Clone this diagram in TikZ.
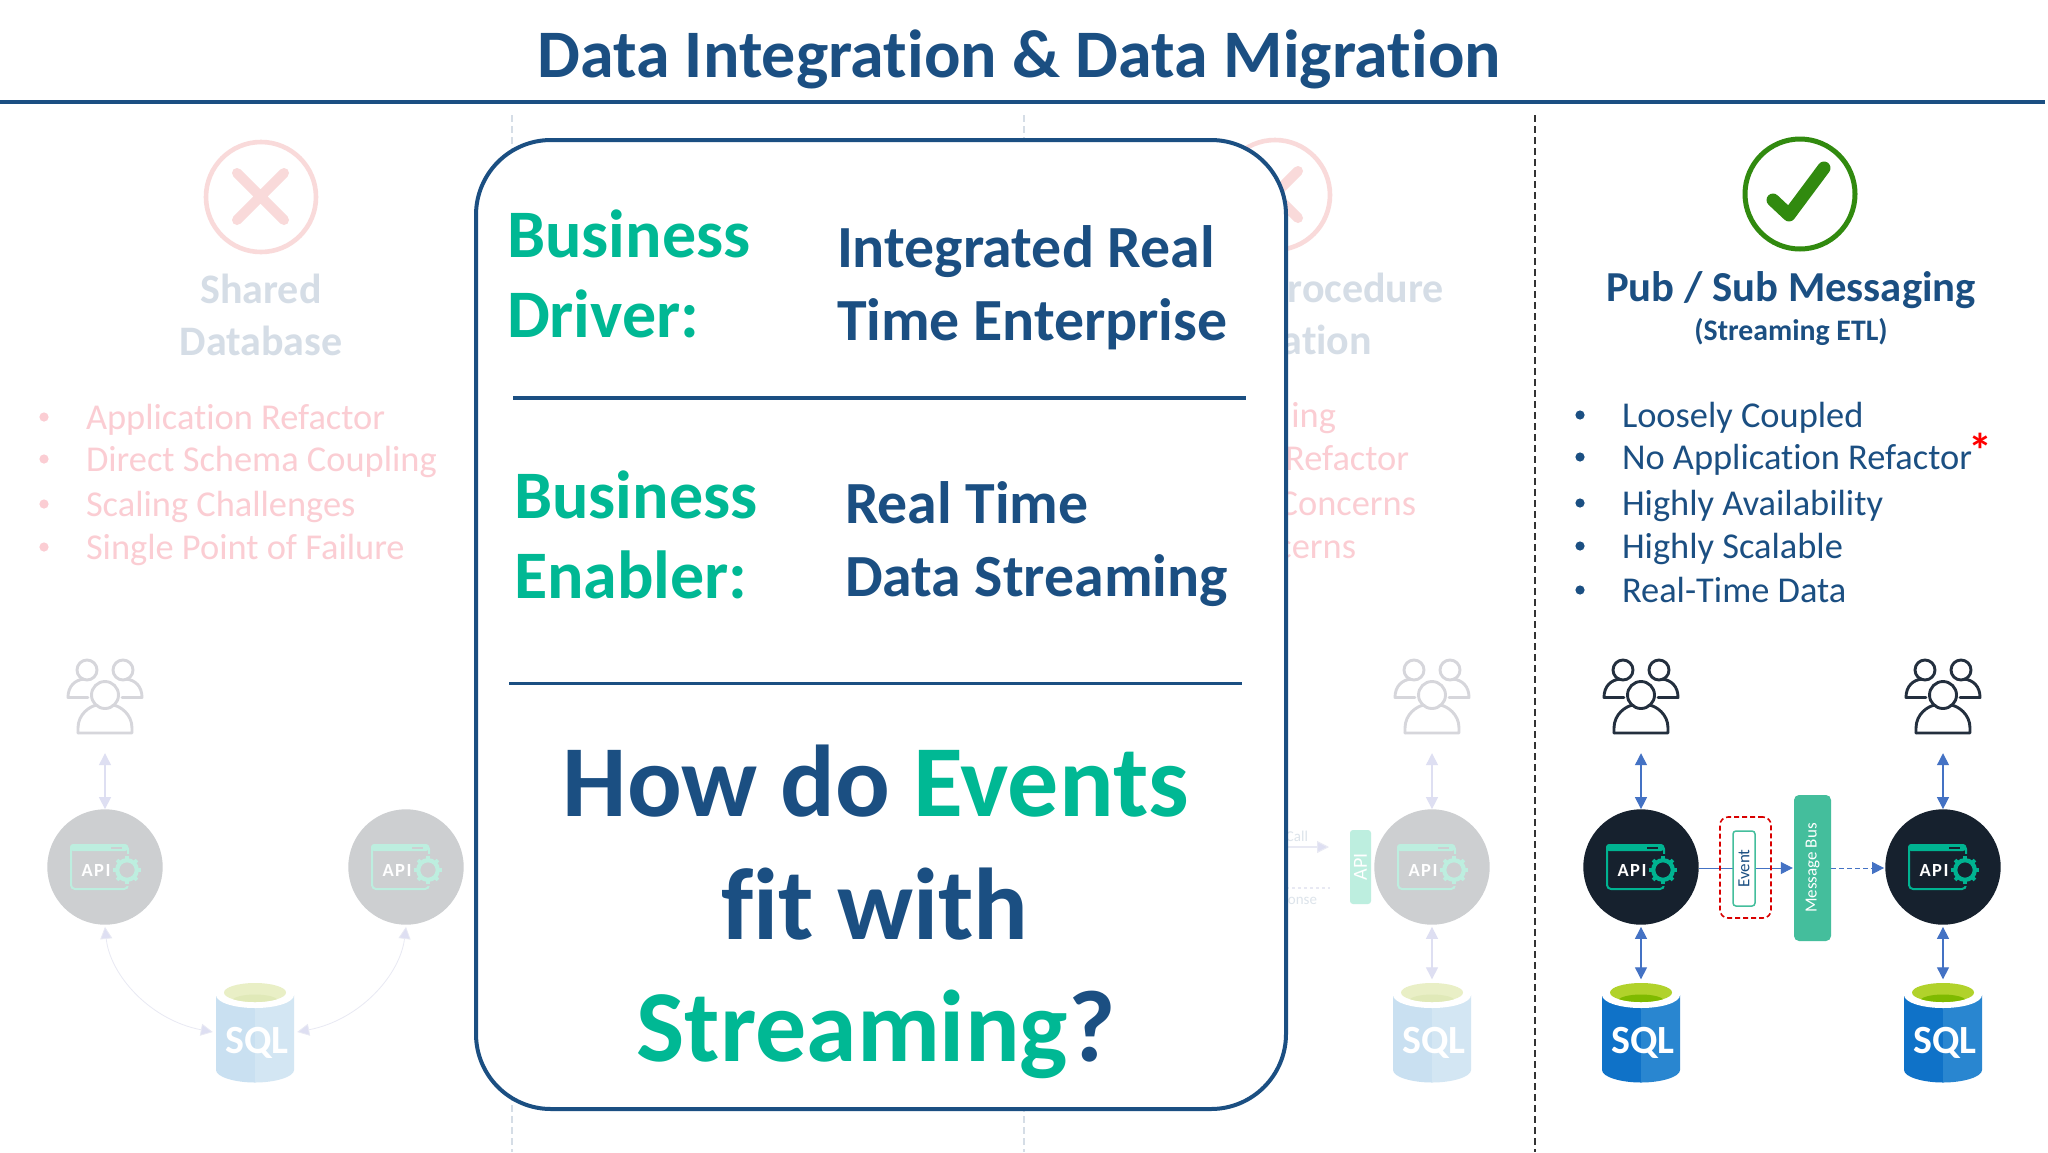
\documentclass[tikz,border=0pt]{standalone}
\usepackage{fontspec}
\setmainfont{Carlito}[Ligatures=NoCommon]
\newfontfamily\apifont{Carlito}[LetterSpace=8,Ligatures=NoCommon]
\usetikzlibrary{arrows.meta,calc}
\definecolor{navy}{HTML}{1B4F82}
\definecolor{teal}{HTML}{00B894}
\definecolor{tealb}{HTML}{00B391}
\definecolor{busg}{HTML}{44BE9C}
\definecolor{arrowb}{HTML}{4472C4}
\definecolor{farrow}{HTML}{DEDFF2}
\definecolor{fline}{HTML}{E8E9F3}
\definecolor{ink}{HTML}{232F3E}
\definecolor{apibg}{HTML}{16212E}
\definecolor{fapibg}{HTML}{CDCFD1}
\definecolor{fteal}{HTML}{BDEEDF}
\definecolor{fusers}{HTML}{D6D6DB}
\definecolor{pinkt}{HTML}{FBCDD3}
\definecolor{grayt}{HTML}{D5DDE6}
\definecolor{pinkx}{HTML}{F9DADA}
\definecolor{okgreen}{HTML}{318A0F}
\definecolor{sqlA}{HTML}{0F72C8}
\definecolor{sqlB}{HTML}{2986D0}
\definecolor{limeA}{HTML}{B1D22B}
\definecolor{limeB}{HTML}{7FBA00}
\definecolor{fsqlA}{HTML}{C9E0F1}
\definecolor{fsqlB}{HTML}{D3E6F3}
\definecolor{flimeA}{HTML}{E9EFC6}
\definecolor{flimeB}{HTML}{E0E9B8}
\newcommand\fpx[1]{\fontsize{#1}{#1}\selectfont}
\tikzset{
  x=1pt,y=-1pt,
  biarrow/.style={draw=arrowb,line width=1.3pt,{Triangle[length=12pt,width=12pt]}-{Triangle[length=12pt,width=12pt]}},
  onearrow/.style={draw=arrowb,line width=1pt,-{Triangle[length=12pt,width=12pt]}},
  fbiarrow/.style={draw=farrow,line width=1.3pt,{Triangle[length=12pt,width=12pt,fill=farrow]}-{Triangle[length=12pt,width=12pt,fill=farrow]}},
  fcurve/.style={draw=fline,line width=.8pt,{Triangle[length=12pt,width=12pt,fill=farrow]}-{Triangle[length=12pt,width=12pt,fill=farrow]}},
  txt/.style={inner sep=0pt,outer sep=0pt},
  listnavy/.style={txt,anchor=base west,text=navy,font=\fpx{36.4}},
  listpink/.style={txt,anchor=base west,text=pinkt,font=\fpx{36.4}},
  listpinkr/.style={txt,anchor=base east,text=pinkt,font=\fpx{36.4}},
  headfade/.style={txt,anchor=base,text=grayt,font=\fpx{42}\bfseries},
  headfader/.style={txt,anchor=base east,text=grayt,font=\fpx{42}\bfseries},
  cardgreen/.style={txt,anchor=base west,text=teal,font=\fpx{68}\bfseries},
  cardnavy/.style={txt,anchor=base west,text=navy,font=\fpx{59.8}\bfseries},
  cardbig/.style={txt,anchor=base,text=navy,font=\fpx{102}\bfseries},
  rulenavy/.style={draw=navy,line width=3.5pt},
}
% name, x, colour
\newcommand\usersicon[3]{%
  \begin{scope}[shift={(#2,0)},draw=#3,line width=2.9pt,line cap=round,line join=round]
    \draw (-18,670) circle[radius=10];
    \draw (18,670) circle[radius=10];
    \draw (-17,697.5) -- (-37,697.5) .. controls (-37,686) and (-30,680) .. (-21,679);
    \draw (17,697.5) -- (37,697.5) .. controls (37,686) and (30,680) .. (21,679);
    \draw (0,695) circle[radius=13.5];
    \draw (-27,733) -- (27,733) -- (27,728) .. controls (27,714) and (15,706) .. (8,705);
    \draw (-27,733) -- (-27,728) .. controls (-27,714) and (-15,706) .. (-8,705);
  \end{scope}
  \node[inner sep=0pt,minimum width=74pt,minimum height=95pt] (#1) at (#2,705.5) {};
}
% name, x, bg, teal
\newcommand\apiicon[4]{%
  \node[circle,fill=#3,inner sep=0pt,minimum size=115.4pt] (#1) at (#2,867) {};
  \begin{scope}[shift={(#2,867)}]
    \fill[#4,rounded corners=3pt] (-35,-23) rectangle (23,-16);
    \draw[#4,line width=2pt,rounded corners=4pt] (-34,-22) rectangle (23,22);
    \draw[#3,line width=1.6pt] (6,-19) -- (17,-19);
    \fill[#3] (22,3) circle[radius=16];
    \draw[#4,line width=4.2pt] (22,3) circle[radius=9.8];
    \foreach \a in {0,45,...,315}{\draw[#4,line width=3.8pt] ($(22,3)+(\a:9.5)$) -- ($(22,3)+(\a:14)$);}
  \end{scope}
  \node[txt,text=white,font=\apifont\fpx{18.5}\bfseries] (#1t) at ($(#2,867)+(-9,3)$) {API};
}
% name, x, A, B, limeA, limeB
\newcommand\sqlicon[6]{%
  \begin{scope}[shift={(#2,0)}]
    \fill[#3] (-39,995) -- (-39,1070) .. controls (-39,1077) and (-20,1082.5) .. (0,1082.5) -- (0,995) -- cycle;
    \fill[#4] (39,995) -- (39,1070) .. controls (39,1077) and (20,1082.5) .. (0,1082.5) -- (0,995) -- cycle;
    \fill[white] (0,995) ellipse[x radius=39,y radius=13];
    \fill[#5] (0,992.5) ellipse[x radius=31,y radius=9.5];
    \begin{scope}
      \clip (0,992.5) ellipse[x radius=31,y radius=9.5];
      \fill[#6] (0,1001) ellipse[x radius=23,y radius=6.5];
    \end{scope}
  \end{scope}
  \node[inner sep=0pt,minimum width=78pt,minimum height=101pt] (#1) at (#2,1032) {};
  \node[txt,anchor=base,text=white,font=\fpx{40}\bfseries] (#1t) at ($(#2,1053)+(2,0)$) {SQL};
}
\begin{document}
\begin{tikzpicture}
\useasboundingbox (0,0) rectangle (2048,1152);
\fill[white] (0,0) rectangle (2048,1152);

% title
\node[txt,anchor=base,text=navy,font=\fpx{68}\bfseries] (title) at (1019,77) {Data Integration \& Data Migration};
\coordinate (ruleL) at (0,102); \coordinate (ruleR) at (2045,102);
\draw[rulenavy] (ruleL) -- (ruleR);

% dividers
\coordinate (d1a) at (512,115); \coordinate (d1b) at (512,1152);
\coordinate (d2a) at (1024,115); \coordinate (d2b) at (1024,1152);
\coordinate (d3a) at (1535,115); \coordinate (d3b) at (1535,1152);
\draw[grayt,line width=1.4pt,dash pattern=on 7pt off 4pt] (d1a) -- (d1b);
\draw[grayt,line width=1.4pt,dash pattern=on 7pt off 4pt] (d2a) -- (d2b);
\draw[black!80,line width=1.4pt,dash pattern=on 7pt off 4pt] (d3a) -- (d3b);

% left faded column
\draw[pinkx,line width=4.6pt] (261,197) circle[radius=55];
\draw[pinkx,line width=10pt,line cap=round] (237,173) -- (284,220) (284,173) -- (237,220);
\node[headfade] (sh1) at (261,303) {Shared};
\node[headfade] (sh2) at (261,355) {Database};
\foreach \yy/\tt in {429/Application Refactor,471/Direct Schema Coupling,516/Scaling Challenges,559/Single Point of Failure}{
  \node[listpink] at (86,\yy) {\tt};
  \fill[pinkt] (44,\yy-12) circle[radius=4.6];
}
\usersicon{uL}{105}{fusers}
\apiicon{aL}{105}{fapibg}{fteal}
\apiicon{aM}{406}{fapibg}{fteal}
\sqlicon{sL}{255}{fsqlA}{fsqlB}{flimeA}{flimeB}
\draw[fbiarrow] (uL.south) -- (aL.north);
\draw[fcurve] ([yshift=-2pt]aL.south) .. controls (110,975) and (150,1020) .. ([xshift=-3pt]sL.west);
\draw[fcurve] ([yshift=-2pt]aM.south) .. controls (400,975) and (360,1020) .. ([xshift=3pt]sL.east);

% middle faded column
\draw[pinkx,line width=4.6pt] (1275,195) circle[radius=55];
\draw[pinkx,line width=10pt,line cap=round] (1251,171) -- (1298,218) (1298,171) -- (1251,218);
\node[headfader] (m1) at (1444,302) {rocedure};
\node[headfader] (m2) at (1372,354) {ation};
\node[listpinkr] at (1336,427) {ing};
\node[listpinkr] at (1409,470) {Refactor};
\node[listpinkr] at (1416,515) {Concerns};
\node[listpinkr] at (1356,558) {cerns};
\usersicon{uM}{1432}{fusers}
\apiicon{aR}{1432}{fapibg}{fteal}
\sqlicon{sM}{1432}{fsqlA}{fsqlB}{flimeA}{flimeB}
\draw[fbiarrow] (uM.south) -- (aR.north);
\draw[fbiarrow] ([yshift=-2pt]aR.south) -- ([yshift=2pt]sM.north);
\node[fill=fteal,rounded corners=3pt,inner sep=0pt,minimum width=21pt,minimum height=74pt] (barM) at (1360.5,867) {};
\node[txt,rotate=90,text=white,font=\fpx{20}] (barMt) at (barM) {API};
\coordinate (callS) at (1286,847); \coordinate (callE) at (1329,847);
\coordinate (respS) at (1286,888); \coordinate (respE) at (1330,888);
\draw[draw=fline,line width=1.1pt,-{Triangle[length=12pt,width=12pt,fill=farrow]}] (callS) -- (callE);
\draw[draw=fline,line width=1.1pt,dashed] (respS) -- (respE);
\node[txt,anchor=base east,text=grayt!80,font=\fpx{15}] (callt) at (1308,841) {Call};
\node[txt,anchor=base east,text=grayt!80,font=\fpx{15}] (respt) at (1317,904) {onse};

% card
\draw[navy,fill=white,line width=4pt,rounded corners=75pt] (476,140) rectangle (1286,1109);
\node[cardgreen] (bd1) at (507,257) {Business};
\node[cardgreen] (bd2) at (507,337) {Driver:};
\node[cardnavy] (v1) at (837,267) {Integrated Real};
\node[cardnavy] (v2) at (837,340) {Time Enterprise};
\coordinate (l1a) at (513,398); \coordinate (l1b) at (1246,398);
\draw[rulenavy] (l1a) -- (l1b);
\node[cardgreen] (be1) at (514,518) {Business};
\node[cardgreen] (be2) at (514,598) {Enabler:};
\node[cardnavy] (v3) at (845,523) {Real Time};
\node[cardnavy] (v4) at (845,596) {Data Streaming};
\coordinate (l2a) at (509,683.5); \coordinate (l2b) at (1242,683.5);
\draw[rulenavy] (l2a) -- (l2b);
\node[cardbig] (q1) at (876,816) {How do \textcolor{teal}{Events}};
\node[cardbig] (q2) at (875,939) {fit with};
\node[cardbig] (q3) at (876,1061) {\textcolor{teal}{Streaming}?};

% right column
\draw[okgreen,line width=5pt] (1800,194) circle[radius=55];
\draw[okgreen,line width=13pt,line cap=round,line join=round] (1773,200) -- (1789,215) -- (1824,168);
\node[txt,anchor=base,text=navy,font=\fpx{42.7}\bfseries] (ps1) at (1791,301) {Pub / Sub Messaging};
\node[txt,anchor=base,text=navy,font=\fpx{29.8}\bfseries] (ps2) at (1791,340) {(Streaming ETL)};
\foreach \yy/\tt in {427/Loosely Coupled,469/No Application Refactor,515/Highly Availability,558/Highly Scalable,602/Real-Time Data}{
  \node[listnavy] at (1622,\yy) {\tt};
  \fill[navy] (1580,\yy-12) circle[radius=4.6];
}
\node[txt,text=red,font=\fpx{48}\bfseries] (star) at (1980,450) {*};
\usersicon{uA}{1641}{ink}
\usersicon{uB}{1943}{ink}
\apiicon{aA}{1641}{apibg}{tealb}
\apiicon{aB}{1943}{apibg}{tealb}
\sqlicon{sA}{1641}{sqlA}{sqlB}{limeA}{limeB}
\sqlicon{sB}{1943}{sqlA}{sqlB}{limeA}{limeB}
\draw[biarrow] (uA.south) -- (aA.north);
\draw[biarrow] (uB.south) -- (aB.north);
\draw[biarrow] ([yshift=-2pt]aA.south) -- ([yshift=2pt]sA.north);
\draw[biarrow] ([yshift=-2pt]aB.south) -- ([yshift=2pt]sB.north);
\node[fill=busg,rounded corners=5pt,inner sep=0pt,minimum width=37pt,minimum height=146pt] (bus) at (1812.5,868) {};
\node[txt,rotate=90,text=white,font=\fpx{17}] (bust) at (bus) {Message Bus};
\draw[onearrow] (aA.east |- bus.west) -- ([xshift=-1pt]bus.west);
\draw[onearrow,dash pattern=on 5pt off 3pt] (bus.east) -- ([xshift=-1pt]aB.west |- bus.east);
\node[draw=red!85!black,line width=1.6pt,dash pattern=on 5pt off 3pt,rounded corners=8pt,inner sep=0pt,minimum width=51pt,minimum height=101pt] (evbox) at (1745.5,867.5) {};
\node[draw=busg,fill=white,line width=1.5pt,rounded corners=3pt,inner sep=0pt,minimum width=22pt,minimum height=75pt] (ev) at (1744,868.5) {};
\node[txt,rotate=90,text=navy,font=\fpx{17}] (evt) at (ev) {Event};
\end{tikzpicture}
\end{document}
